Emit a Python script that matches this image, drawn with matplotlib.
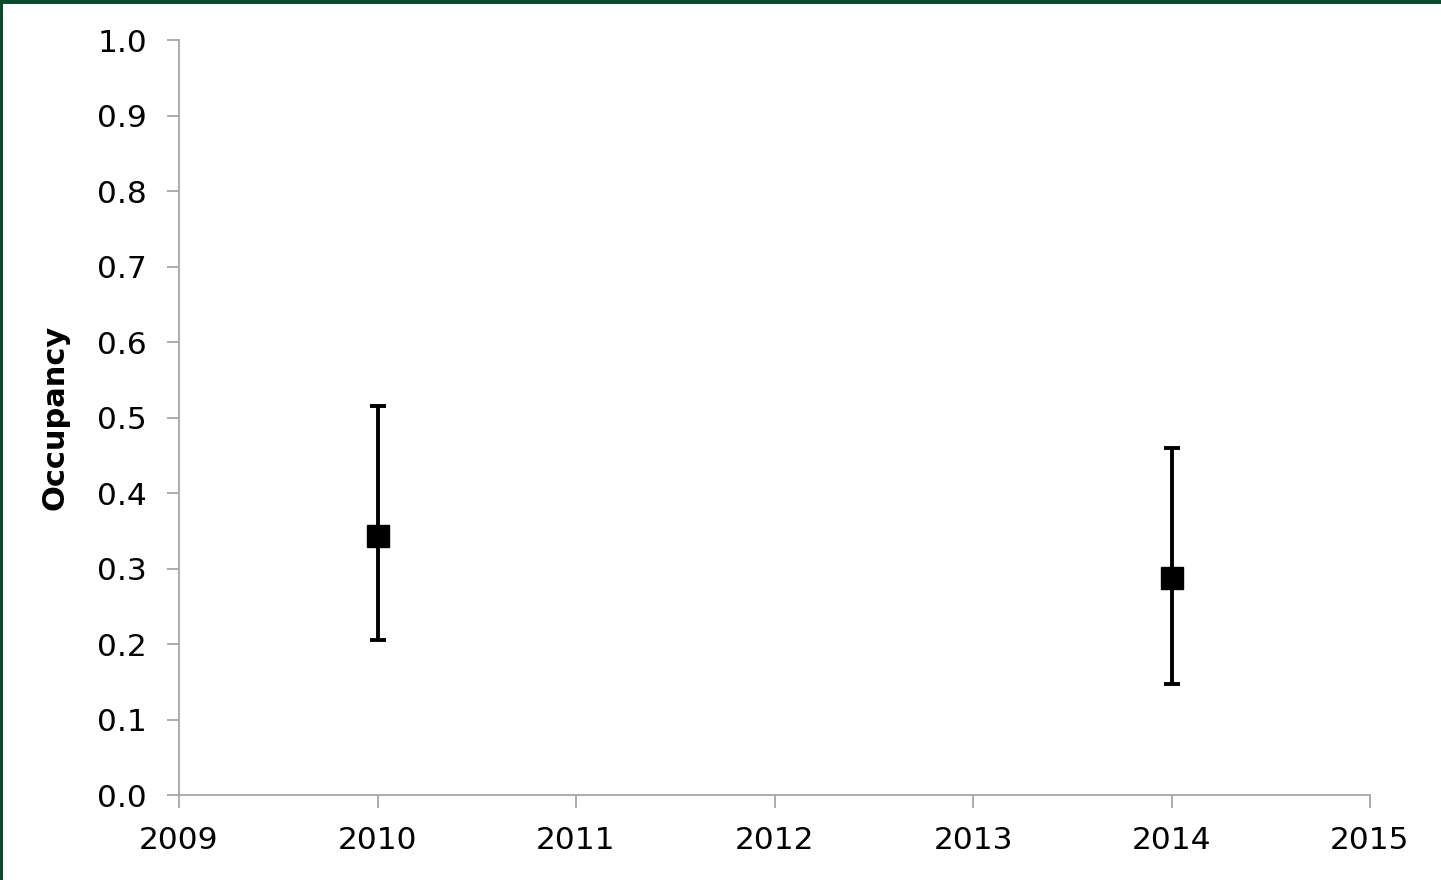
import matplotlib
matplotlib.use("Agg")
import matplotlib.pyplot as plt
from matplotlib.patches import Rectangle

years = [2010, 2014]
occupancy = [0.343, 0.287]
upper = [0.515, 0.460]
lower = [0.205, 0.147]
x_ticks = [2009, 2010, 2011, 2012, 2013, 2014, 2015]
y_ticks = [0.0, 0.1, 0.2, 0.3, 0.4, 0.5, 0.6, 0.7, 0.8, 0.9, 1.0]

plt.rcParams["font.family"] = ["DejaVu Sans"]

W, H = 1441, 880
fig = plt.figure(figsize=(W / 100, H / 100), dpi=100)
ax = fig.add_axes([179 / W, (H - 795) / H, (1370 - 179) / W, (795 - 40) / H])

err_lo = [o - l for o, l in zip(occupancy, lower)]
err_hi = [u - o for o, u in zip(occupancy, upper)]
ax.errorbar(years, occupancy, yerr=[err_lo, err_hi], fmt="s", color="black",
            markersize=16, ecolor="black", elinewidth=2.8, capsize=5.5,
            capthick=2.8, linestyle="none", zorder=3)

ax.set_xlim(2009, 2015)
ax.set_ylim(0, 1)
ax.set_xticks(x_ticks)
ax.set_xticklabels([str(y) for y in x_ticks])
ax.set_yticks(y_ticks)
ax.set_yticklabels([f"{v:.1f}" for v in y_ticks])

axis_grey = "#a6a6a6"
for side in ("top", "right"):
    ax.spines[side].set_visible(False)
for side in ("left", "bottom"):
    ax.spines[side].set_color(axis_grey)
    ax.spines[side].set_linewidth(1.3)
ax.tick_params(axis="both", direction="out", length=9, width=1.3,
               color=axis_grey, labelsize=22.5, labelcolor="black")
ax.tick_params(axis="y", pad=14)
ax.tick_params(axis="x", pad=13)

ax.set_ylabel("Occupancy", fontsize=22, fontweight="bold", labelpad=20)

# dark green frame along the top and left edges
green = "#0b4a2b"
fig.patches.append(Rectangle((0, (H - 4) / H), 1, 4 / H, transform=fig.transFigure,
                             facecolor=green, edgecolor="none", zorder=10))
fig.patches.append(Rectangle((0, 0), 3 / W, 1, transform=fig.transFigure,
                             facecolor=green, edgecolor="none", zorder=10))

fig.savefig("out.png", dpi=100, facecolor="white")
